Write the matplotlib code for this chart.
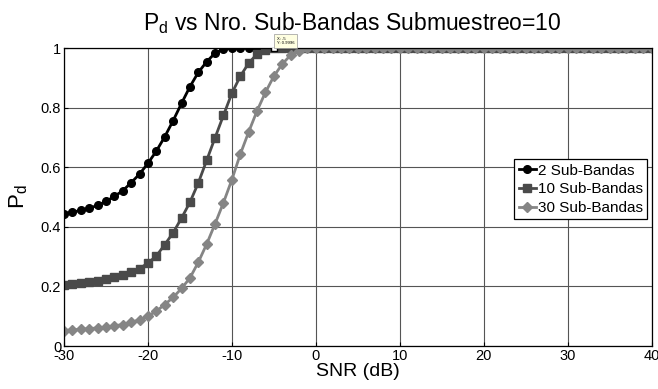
import numpy as np
import matplotlib
matplotlib.use("Agg")
import matplotlib.pyplot as plt
from matplotlib.ticker import FixedLocator, FuncFormatter

plt.rcParams['font.family'] = ['Liberation Sans', 'DejaVu Sans']
plt.rcParams['mathtext.fontset'] = 'custom'
plt.rcParams['mathtext.rm'] = 'Liberation Sans'
plt.rcParams['mathtext.it'] = 'Liberation Sans'
plt.rcParams['axes.unicode_minus'] = False

snr = list(range(-30, 41))

pd_2 = [0.443, 0.449, 0.455, 0.462, 0.472, 0.485, 0.502, 0.521, 0.548, 0.577,
        0.613, 0.654, 0.702, 0.756, 0.814, 0.870, 0.918, 0.954, 0.983, 0.996,
        0.999, 1.0, 1.0, 1.0, 1.0, 1.0, 1.0, 1.0, 1.0, 1.0,
        1.0, 1.0, 1.0, 1.0, 1.0, 1.0, 1.0, 1.0, 1.0, 1.0,
        1.0, 1.0, 1.0, 1.0, 1.0, 1.0, 1.0, 1.0, 1.0, 1.0,
        1.0, 1.0, 1.0, 1.0, 1.0, 1.0, 1.0, 1.0, 1.0, 1.0,
        1.0, 1.0, 1.0, 1.0, 1.0, 1.0, 1.0, 1.0, 1.0, 1.0,
        1.0]

pd_10 = [0.204, 0.207, 0.211, 0.214, 0.219, 0.224, 0.231, 0.239, 0.248, 0.260,
         0.278, 0.302, 0.340, 0.380, 0.429, 0.482, 0.547, 0.623, 0.699, 0.774,
         0.848, 0.905, 0.949, 0.980, 0.994, 0.9996, 1.0, 1.0, 1.0, 1.0,
         1.0, 1.0, 1.0, 1.0, 1.0, 1.0, 1.0, 1.0, 1.0, 1.0,
         1.0, 1.0, 1.0, 1.0, 1.0, 1.0, 1.0, 1.0, 1.0, 1.0,
         1.0, 1.0, 1.0, 1.0, 1.0, 1.0, 1.0, 1.0, 1.0, 1.0,
         1.0, 1.0, 1.0, 1.0, 1.0, 1.0, 1.0, 1.0, 1.0, 1.0,
         1.0]

pd_30 = [0.052, 0.054, 0.056, 0.058, 0.061, 0.063, 0.068, 0.072, 0.079, 0.088,
         0.100, 0.117, 0.139, 0.163, 0.193, 0.228, 0.281, 0.342, 0.410, 0.481,
         0.558, 0.643, 0.718, 0.789, 0.851, 0.905, 0.946, 0.976, 0.991, 0.999,
         1.0, 1.0, 1.0, 1.0, 1.0, 1.0, 1.0, 1.0, 1.0, 1.0,
         1.0, 1.0, 1.0, 1.0, 1.0, 1.0, 1.0, 1.0, 1.0, 1.0,
         1.0, 1.0, 1.0, 1.0, 1.0, 1.0, 1.0, 1.0, 1.0, 1.0,
         1.0, 1.0, 1.0, 1.0, 1.0, 1.0, 1.0, 1.0, 1.0, 1.0,
         1.0]

series_labels = ['2 Sub-Bandas', '10 Sub-Bandas', '30 Sub-Bandas']
xticks = [-30, -20, -10, 0, 10, 20, 30, 40]
yticks = [0, 0.2, 0.4, 0.6, 0.8, 1]
tip_x = -5
tip_y = 0.9996

W, H = 658, 389
fig = plt.figure(figsize=(W / 100, H / 100), dpi=100)
ax = fig.add_axes([64 / W, 1 - 346 / H, (651.5 - 64) / W, (346 - 48) / H])

ax.plot(snr, pd_2, '-o', color='black', lw=2, ms=5.5, label=series_labels[0])
ax.plot(snr, pd_10, '-s', color='#4a4a4a', lw=2, ms=5.5, label=series_labels[1])
ax.plot(snr, pd_30, '-D', color='#858585', lw=2, ms=5, label=series_labels[2])

ax.set_xlim(-30, 40)
ax.set_ylim(0, 1)
ax.xaxis.set_major_locator(FixedLocator(xticks))
ax.yaxis.set_major_locator(FixedLocator(yticks))
ax.yaxis.set_major_formatter(FuncFormatter(lambda v, p: '%g' % v))
ax.tick_params(direction='in', length=3, labelsize=10.5, pad=2, top=False, right=False)
ax.grid(True, color='#555555', lw=0.8)
ax.set_axisbelow(True)
for s in ax.spines.values():
    s.set_color('black')
    s.set_linewidth(0.9)

ax.set_title(r'$\mathregular{P_d}$ vs Nro. Sub-Bandas Submuestreo=10', fontsize=16.5, pad=13,
             x=0.49)
ax.set_xlabel('SNR (dB)', fontsize=14, labelpad=0)
ax.set_ylabel(r'$\mathregular{P_d}$', fontsize=16, labelpad=8)

leg = ax.legend(loc='upper right', bbox_to_anchor=(0.993, 0.627), borderaxespad=0,
                fontsize=11, fancybox=False, framealpha=1, edgecolor='black',
                handlelength=1.1, handletextpad=0.15, borderpad=0.3, labelspacing=0.3)
leg.get_frame().set_linewidth(0.9)

# data tip
ax.plot([tip_x], [tip_y], 's', ms=4, mfc='white', mec='black', mew=1, zorder=5)
ax.annotate('X: %g\nY: %g' % (tip_x, tip_y), xy=(tip_x, tip_y), xytext=(2, 2),
            textcoords='offset points', fontsize=3, va='bottom', ha='left',
            bbox=dict(boxstyle='square,pad=0.6', fc='#ffffe1', ec='#999999', lw=0.5),
            zorder=6, annotation_clip=False)

fig.savefig('out.png', dpi=100)
